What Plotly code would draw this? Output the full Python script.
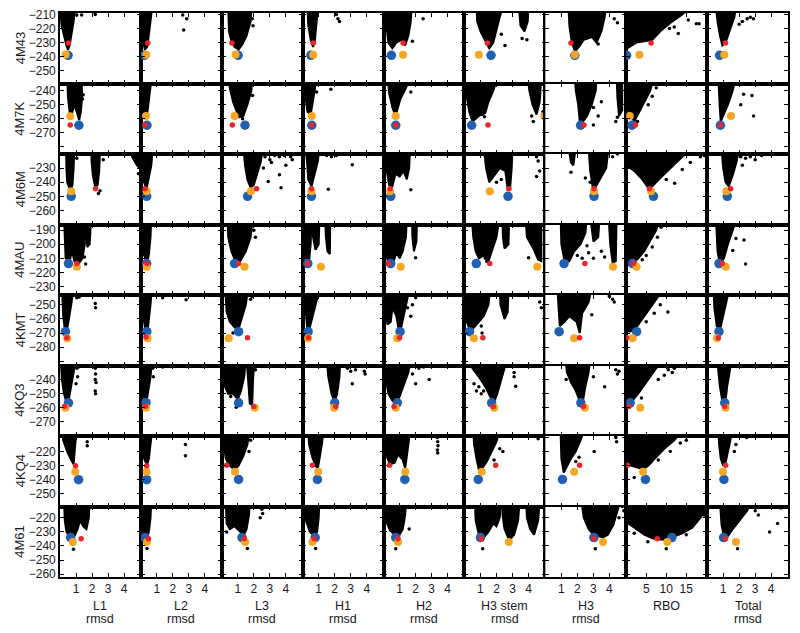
import plotly.graph_objects as go
from plotly.subplots import make_subplots

ROWS = ["4M43", "4M7K", "4M6M", "4MAU", "4KMT", "4KQ3", "4KQ4", "4M61"]
COLS = ["L1", "L2", "L3", "H1", "H2", "H3 stem", "H3", "RBO", "Total"]
COL_UNITS = ["rmsd", "rmsd", "rmsd", "rmsd", "rmsd", "rmsd", "rmsd", "", "rmsd"]

X_TICKS_RMSD = [1, 2, 3, 4]
X_TICKS_RBO = [5, 10, 15]

# y axis window and labelled ticks for each target
Y_RANGES = [[-259, -209], [-285, -235], [-270, -220], [-236, -186],
            [-293, -243], [-280, -230], [-259, -209], [-262, -212]]
Y_LABELS = [[-210, -220, -230, -240, -250],
            [-240, -250, -260, -270],
            [-230, -240, -250, -260],
            [-190, -200, -210, -220, -230],
            [-250, -260, -270, -280],
            [-240, -250, -260, -270],
            [-220, -230, -240, -250],
            [-220, -230, -240, -250, -260]]

# ---- 4M43 ----
CLOUD_4M43 = [
    [[(0.05, -205), (0.95, -205), (0.85, -215), (0.7, -225), (0.6, -232), (0.5, -235), (0.4, -232), (0.25, -225), (0.1, -218), (0.05, -212)]],
    [[(0.05, -205), (0.7, -205), (0.6, -215), (0.5, -225), (0.4, -233), (0.25, -235), (0.15, -230), (0.08, -220)]],
    [[(0.4, -205), (1.85, -205), (1.8, -215), (1.55, -225), (1.3, -231), (1.05, -235), (0.8, -233), (0.6, -229), (0.45, -222)]],
    [[(0.3, -205), (0.95, -205), (0.85, -218), (0.75, -230), (0.65, -233), (0.5, -228), (0.35, -218)]],
    [[(0.2, -205), (1.75, -205), (1.7, -215), (1.55, -225), (1.35, -232), (1.1, -228), (0.8, -230), (0.55, -234), (0.3, -230), (0.2, -220)]],
    [[(0.75, -205), (2.4, -205), (2.2, -212), (2.0, -222), (1.8, -230), (1.55, -234), (1.3, -229), (1.0, -222), (0.8, -215)],
     [(3.4, -205), (4.0, -205), (3.95, -215), (3.75, -222), (3.5, -218)]],
    [[(1.45, -205), (3.8, -205), (3.7, -212), (3.5, -222), (3.2, -230), (2.9, -226), (2.4, -228), (2.1, -233), (1.85, -236), (1.65, -230), (1.5, -218)]],
    [[(0, -205), (16, -205), (14, -210), (11, -216), (8.5, -222), (6.5, -228), (4.5, -229), (2.5, -230), (0.3, -234), (0, -234)]],
    [[(0.55, -205), (1.8, -205), (1.7, -212), (1.4, -222), (1.15, -230), (0.95, -232), (0.8, -225), (0.65, -215)]],
]
DOTS_4M43 = [
    [(1.05, -210.5), (1.35, -210.5), (2.2, -210)],
    [(2.61, -210.5), (2.86, -213), (2.67, -221)],
    [(1.9, -213), (1.95, -218)],
    [(2.1, -210), (2.2, -213), (2.3, -215)],
    [(2.47, -213), (1.8, -229)],
    [(2.53, -232), (3.6, -227), (3.9, -228), (2.3, -224)],
    [(4.3, -213), (4.5, -216), (3.3, -231)],
    [(13, -223.5), (17.5, -216.6), (18.2, -216.6), (10.8, -220), (12, -219), (15.5, -214)],
    [(2.0, -217), (2.2, -215), (2.5, -213), (2.9, -213), (2.7, -212)],
]
BLUE_4M43 = [(0.5, -239), (0.22, -239), (1.02, -239), (0.51, -239), (0.49, -239), (1.66, -239), (1.84, -239), (0.1, -239), (0.78, -239)]
ORANGE_4M43 = [(0.35, -238.5), (0.34, -238.6), (0.86, -238.5), (0.66, -238.6), (1.22, -238.6), (0.9, -238.6), (1.84, -238.6), (3.3, -238.6), (1.07, -238.6)]
RED_4M43 = [(0.53, -230.3), (0.43, -230.3), (0.63, -230.3), (0.66, -230.3), (1.22, -230.3), (1.43, -230.3), (1.6, -230.3), (6.2, -230.3), (1.14, -230.3)]

# ---- 4M7K ----
CLOUD_4M7K = [
    [[(0.45, -230), (1.35, -230), (1.38, -245), (1.3, -255), (1.2, -261), (1.05, -255), (0.9, -250), (0.75, -256), (0.62, -257), (0.5, -245)]],
    [[(0.08, -230), (0.68, -230), (0.55, -242), (0.45, -252), (0.38, -258), (0.2, -256), (0.12, -245)]],
    [[(0.45, -230), (1.9, -230), (1.85, -240), (1.6, -250), (1.35, -258), (1.1, -259), (0.9, -254), (0.7, -248), (0.5, -238)]],
    [[(0.12, -230), (0.85, -230), (0.75, -240), (0.6, -250), (0.5, -257), (0.3, -255), (0.18, -245)]],
    [[(0.25, -230), (1.7, -230), (1.4, -238), (1.05, -246), (0.85, -254), (0.75, -258), (0.55, -252), (0.35, -242)]],
    [[(0.1, -230), (2.1, -230), (1.8, -240), (1.5, -248), (1.3, -256), (0.9, -258), (0.5, -262), (0.3, -255), (0.15, -245)],
     [(3.95, -230), (4.8, -230), (4.7, -248), (4.5, -257), (4.25, -250), (4.05, -240)]],
    [[(1.85, -230), (3.2, -230), (3.15, -240), (2.9, -250), (2.6, -258), (2.35, -262), (2.15, -262), (2.05, -250), (1.9, -240)],
     [(4.45, -230), (4.8, -230), (4.8, -254), (4.6, -258), (4.5, -245)]],
    [[(0, -230), (7, -230), (6, -240), (4.5, -248), (3, -256), (2, -262), (0.8, -255), (0, -250)]],
    [[(0.7, -230), (1.8, -230), (1.6, -240), (1.3, -250), (1.0, -258), (0.85, -262), (0.78, -250), (0.75, -240)]],
]
DOTS_4M7K = [
    [(1.4, -246), (1.45, -243)],
    [],
    [(1.92, -243.5), (1.3, -260)],
    [(0.87, -241), (1.76, -239)],
    [(1.7, -241)],
    [(1.1, -257), (1.25, -258.5), (4.2, -258), (4.3, -262), (4.9, -255)],
    [(3.0, -264.5), (3.3, -258), (3.0, -252), (3.5, -248), (4.4, -262), (4.5, -259)],
    [(7.5, -238), (6.5, -244), (5.5, -250), (2.8, -262), (0.3, -253)],
    [(2.28, -242.6), (2.8, -243.5), (2.1, -250), (2.9, -258), (1.6, -257)],
]
BLUE_4M7K = [(1.18, -264.6), (0.38, -264.6), (1.45, -264.6), (0.57, -264.6), (0.76, -264.6), (0.45, -264.6), (2.2, -264.6), (1.45, -264.6), (0.83, -264.6)]
ORANGE_4M7K = [(0.64, -258.2), (0.32, -258), (0.8, -258), (0.57, -258), (0.76, -258), (4.98, -258), None, (0.9, -258), (1.49, -258)]
RED_4M7K = [(0.64, -264.4), (0.26, -264.4), (0.66, -264.4), (0.57, -264.4), (0.76, -264.4), (1.47, -264.4), (2.41, -264.4), (2.3, -264.4), (0.83, -264.4)]

# ---- 4M6M ----
CLOUD_4M6M = [
    [[(0.38, -215), (0.9, -215), (0.85, -230), (0.78, -242), (0.65, -246), (0.45, -240), (0.4, -230)],
     [(1.95, -215), (2.5, -215), (2.45, -232), (2.35, -242), (2.2, -244), (2.05, -235), (1.97, -225)],
     [(4.4, -215), (5.1, -215), (5.1, -232), (4.8, -228), (4.5, -222)]],
    [[(0.05, -215), (0.75, -215), (0.65, -228), (0.5, -238), (0.35, -245), (0.2, -240), (0.1, -228)]],
    [[(1.35, -215), (2.55, -215), (2.45, -225), (2.2, -235), (2.0, -242), (1.8, -244), (1.6, -238), (1.45, -228)]],
    [[(0.2, -215), (1.05, -215), (0.95, -225), (0.75, -235), (0.55, -243), (0.35, -238), (0.25, -228)]],
    [[(0.12, -215), (1.65, -215), (1.6, -230), (1.45, -238), (1.25, -232), (1.0, -236), (0.75, -234), (0.55, -243), (0.35, -242), (0.2, -232)]],
    [[(1.2, -215), (3.0, -215), (2.95, -230), (2.85, -244), (2.7, -245), (2.55, -232), (2.2, -230), (1.8, -236), (1.55, -240), (1.35, -230)]],
    [[(2.7, -215), (3.95, -215), (3.8, -230), (3.4, -238), (3.15, -243), (2.95, -243), (2.8, -232)],
     [(1.45, -215), (1.9, -215), (1.75, -228), (1.6, -226)]],
    [[(0, -215), (17, -215), (14, -222), (11, -230), (8.5, -237), (6.5, -243), (5.5, -244), (4, -238), (2, -232), (0, -228)]],
    [[(0.9, -215), (2.0, -215), (1.85, -225), (1.6, -235), (1.35, -243), (1.15, -240), (1.0, -230)]],
]
DOTS_4M6M = [
    [(1.05, -223), (2.4, -248), (2.5, -246), (2.7, -224), (4.9, -234)],
    [],
    [(2.7, -222), (3.0, -224), (3.3, -221), (3.6, -222), (3.9, -221), (4.3, -222), (4.4, -224), (3.1, -226),
     (2.9, -239.5), (3.7, -244), (3.6, -234.8), (4.0, -228), (2.6, -230)],
    [(1.5, -221), (1.8, -222), (2.1, -221), (3.1, -227.7), (1.6, -245)],
    [(1.7, -245.4)],
    [(1.55, -248), (1.7, -247), (4.5, -222), (4.6, -225), (4.7, -232), (4.5, -236), (2.3, -238), (2.0, -240)],
    [(1.6, -233), (2.5, -237), (4.2, -222), (4.5, -220), (2.8, -240)],
    [(12.1, -240.7), (18.5, -222), (19.5, -221), (16, -226), (14, -231), (10, -238)],
    [(2.1, -222), (2.4, -223), (2.7, -222), (3.0, -224), (3.4, -221), (2.2, -228)],
]
BLUE_4M6M = [(0.7, -250), (0.36, -250), (1.61, -250), (0.55, -250), (0.45, -250), (2.72, -250), (3.04, -250), (6.8, -250), (1.26, -250)]
ORANGE_4M6M = [(0.7, -246.5), (0.36, -246.5), (1.82, -246.5), (0.55, -246.5), (0.41, -246.5), (1.58, -246.5), (3.04, -246.5), (6.2, -246.5), (1.2, -246.5)]
RED_4M6M = [(2.22, -244.6), (0.26, -244.6), (2.17, -244.6), (0.55, -244.6), (0.41, -244.6), (2.78, -244.6), (3.04, -244.6), (5.8, -244.6), (1.47, -244.6)]

# ---- 4MAU ----
CLOUD_4MAU = [
    [[(0.25, -180), (1.6, -180), (1.55, -200), (1.4, -210), (1.15, -214), (0.9, -212), (0.75, -205), (0.6, -212), (0.35, -210), (0.28, -198)],
     [(1.65, -180), (1.95, -180), (1.85, -200), (1.7, -202)]],
    [[(0.08, -180), (0.65, -180), (0.6, -195), (0.5, -207), (0.4, -213), (0.2, -208), (0.12, -195)]],
    [[(0.35, -180), (1.95, -180), (1.8, -195), (1.5, -205), (1.15, -212), (0.85, -212), (0.6, -205), (0.4, -195)]],
    [[(0.12, -180), (0.55, -180), (0.5, -200), (0.4, -212), (0.2, -210), (0.14, -195)],
     [(0.6, -180), (1.05, -180), (1.0, -200), (0.8, -204), (0.65, -195)],
     [(1.4, -180), (1.72, -180), (1.7, -207), (1.55, -205), (1.45, -195)]],
    [[(0.05, -180), (1.45, -180), (1.4, -195), (1.2, -205), (1.0, -210), (0.8, -206), (0.6, -213), (0.35, -215), (0.1, -205)],
     [(1.78, -180), (2.1, -180), (2.05, -198), (1.9, -205), (1.8, -195)]],
    [[(0.45, -180), (2.2, -180), (2.0, -195), (1.7, -205), (1.5, -212), (1.2, -208), (0.9, -210), (0.7, -205), (0.55, -195)],
     [(2.38, -180), (2.8, -180), (2.75, -200), (2.5, -203), (2.4, -195)],
     [(3.8, -180), (4.8, -180), (4.8, -212), (4.6, -211), (4.3, -203), (3.9, -195)]],
    [[(0.95, -180), (2.6, -180), (2.5, -192), (2.2, -200), (1.8, -205), (1.5, -212), (1.2, -212), (1.0, -200)],
     [(2.8, -180), (3.4, -180), (3.3, -195), (3.0, -198)],
     [(3.95, -180), (4.45, -180), (4.4, -212), (4.2, -213), (4.05, -200)]],
    [[(0, -180), (8.5, -180), (7.5, -190), (6, -198), (4.5, -205), (3, -210), (1.5, -214), (0, -215)]],
    [[(0.55, -180), (1.85, -180), (1.6, -190), (1.3, -200), (1.05, -210), (0.8, -214), (0.65, -205), (0.58, -195)]],
]
DOTS_4MAU = [
    [(1.6, -214), (1.53, -209)],
    [],
    [(2.0, -190), (2.1, -195)],
    [],
    [(2.0, -209.5)],
    [(1.3, -210), (1.4, -212), (4.0, -209.5)],
    [(2.0, -208), (2.3, -210), (2.7, -206), (3.0, -210), (3.5, -205), (3.7, -209), (2.6, -201)],
    [(8.7, -188), (7.8, -195), (6.5, -202), (5, -208), (4, -211)],
    [(1.8, -196), (2.3, -197), (1.6, -204.5), (2.4, -214)],
]
BLUE_4MAU = [(0.53, -213.7), (0.36, -213.7), (0.8, -213.7), (0.32, -213.7), (0.45, -213.7), (0.74, -213.7), (1.17, -213.7), (1.6, -213.7), (0.74, -213.7)]
ORANGE_4MAU = [(1.05, -216), (0.36, -216), (1.42, -216), (1.14, -216), (1.07, -216), (4.55, -216), (4.22, -216), (2.6, -216), (1.16, -216)]
RED_4MAU = [(1.05, -213.7), (0.38, -213.7), (1.05, -213.7), (0.3, -213.7), (0.3, -213.7), (1.58, -213.7), (2.47, -213.7), (1.8, -213.7), (0.95, -213.7)]

# ---- 4KMT ----
CLOUD_4KMT = [
    [[(0.15, -238), (0.85, -238), (0.7, -250), (0.55, -260), (0.45, -267), (0.3, -267), (0.2, -258), (0.16, -248)]],
    [[(0.08, -238), (0.68, -238), (0.6, -250), (0.5, -260), (0.42, -268), (0.25, -266), (0.12, -255)]],
    [[(0.22, -238), (1.65, -238), (1.5, -250), (1.25, -260), (1.05, -267), (0.8, -266), (0.5, -262), (0.3, -255), (0.23, -245)]],
    [[(0.18, -238), (1.1, -238), (0.85, -248), (0.6, -258), (0.42, -267), (0.28, -266), (0.2, -255)]],
    [[(0.08, -238), (1.6, -238), (1.5, -245), (1.3, -255), (1.1, -266), (0.95, -268), (0.8, -258), (0.55, -252), (0.45, -262), (0.25, -264), (0.1, -255)]],
    [[(0.05, -238), (1.6, -238), (1.5, -250), (1.2, -258), (0.9, -262), (0.6, -266), (0.35, -268), (0.15, -262), (0.07, -250)],
     [(2.2, -238), (2.75, -238), (2.7, -255), (2.5, -260), (2.25, -250)]],
    [[(0.75, -238), (2.9, -238), (2.7, -248), (2.3, -256), (2.15, -270), (1.95, -262), (1.5, -258), (1.2, -262), (0.9, -265), (0.77, -250)]],
    [[(0, -238), (9.5, -238), (8, -244), (6, -252), (4, -260), (2.5, -266), (1, -269), (0, -268)]],
    [[(0.4, -238), (1.4, -238), (1.2, -248), (1.0, -258), (0.8, -268), (0.6, -265), (0.45, -252)]],
]
DOTS_4KMT = [
    [(1.05, -245), (1.2, -244.5), (2.2, -249), (2.22, -252)],
    [(1.36, -245), (2.82, -246.3)],
    [(0.7, -270), (1.8, -246), (1.9, -244)],
    [],
    [(1.7, -258), (1.8, -250), (1.5, -252), (2.0, -245)],
    [(4.7, -248), (4.8, -252), (1.1, -270), (1.05, -265)],
    [(2.9, -257), (3.9, -242), (4.2, -246), (4.3, -248), (4.0, -244)],
    [(10.4, -255), (8.5, -250), (7, -256), (5, -262)],
    [],
]
BLUE_4KMT = [(0.34, -269), (0.37, -269), (1.05, -269), (0.34, -269), (1.03, -269), (0.32, -269), (0.86, -269), (2.6, -269), (0.74, -269)]
ORANGE_4KMT = [(0.45, -273.6), (0.42, -273.6), (0.43, -273.7), (0.34, -273.7), (0.86, -273.7), (0.59, -273.7), (1.8, -273.7), (1.6, -273.7), (0.62, -273.7)]
RED_4KMT = [(0.43, -273.3), (0.32, -272.8), (1.61, -273.3), (0.36, -273.3), (1.0, -273.3), (1.15, -273.3), (2.14, -273.3), (0.1, -273.3), (0.7, -273.3)]

# ---- 4KQ3 ----
CLOUD_4KQ3 = [
    [[(0.05, -225), (0.95, -225), (0.85, -235), (0.7, -245), (0.55, -254), (0.4, -256), (0.25, -250), (0.12, -240)]],
    [[(0.05, -225), (0.7, -225), (0.6, -238), (0.45, -250), (0.35, -256), (0.2, -253), (0.1, -240)]],
    [[(0.12, -225), (1.5, -225), (1.4, -238), (1.2, -248), (1.0, -254), (0.7, -250), (0.4, -250), (0.2, -245), (0.12, -235)],
     [(1.55, -225), (2.05, -225), (1.95, -240), (1.9, -258), (1.75, -257), (1.65, -240)]],
    [[(1.5, -225), (2.35, -225), (2.3, -238), (2.15, -250), (2.0, -256), (1.8, -250), (1.6, -238)]],
    [[(0.12, -225), (1.7, -225), (1.55, -235), (1.3, -243), (1.0, -252), (0.8, -256), (0.55, -255), (0.3, -250), (0.15, -240)]],
    [[(0.45, -225), (2.6, -225), (2.5, -232), (2.3, -240), (2.05, -250), (1.85, -256), (1.6, -252), (1.3, -245), (0.9, -238), (0.5, -232)]],
    [[(1.25, -225), (2.8, -225), (2.7, -235), (2.5, -245), (2.35, -255), (2.15, -255), (1.9, -248), (1.6, -242), (1.35, -235)]],
    [[(0, -225), (9, -225), (7.5, -232), (6, -238), (4.5, -244), (3, -250), (1.5, -255), (0, -256)]],
    [[(0.62, -225), (1.55, -225), (1.4, -235), (1.25, -245), (1.15, -255), (0.95, -255), (0.8, -245), (0.68, -235)]],
]
DOTS_4KQ3 = [
    [(1.05, -232), (1.15, -231), (1.1, -238), (1.0, -243), (2.2, -230), (2.2, -232), (2.22, -236), (2.2, -240),
     (2.25, -242), (2.2, -248), (2.22, -250)],
    [(0.74, -232), (1.36, -231), (0.78, -238)],
    [(0.9, -259.6), (0.56, -252), (1.5, -230), (1.7, -231), (2.1, -233)],
    [(2.8, -232), (3.0, -234), (3.3, -233), (3.85, -234), (3.9, -236), (3.1, -243)],
    [(2.0, -243), (2.85, -240), (2.2, -232), (2.5, -231), (1.8, -236)],
    [(0.6, -243), (0.75, -248), (0.9, -245), (1.05, -250), (3.1, -235), (3.1, -238), (3.2, -244.7), (1.2, -248)],
    [(1.3, -240), (3.7, -245), (4.4, -233), (4.5, -236), (4.6, -234), (3.0, -238)],
    [(10.5, -233), (11.5, -235), (12, -232), (9.5, -237), (8, -240), (3.8, -253)],
    [],
]
BLUE_4KQ3 = [(0.53, -256.5), (0.32, -256.4), (1.05, -256.5), (2.0, -256.5), (0.86, -256.5), (1.7, -256.5), (2.22, -256.5), (1.0, -256.5), (1.1, -256.5)]
ORANGE_4KQ3 = [(0.34, -260), (0.32, -260), (2.06, -259.9), (1.97, -260), (0.76, -260), (1.86, -260), (2.47, -260), (3.5, -260), (1.16, -260)]
RED_4KQ3 = [(0.3, -258.9), (0.28, -258.9), (2.0, -259), (2.06, -259), (0.66, -259), (1.8, -259), (2.38, -259), (0.7, -259), (1.1, -259)]

# ---- 4KQ4 ----
CLOUD_4KQ4 = [
    [[(0.15, -205), (1.05, -205), (0.95, -215), (0.9, -225), (0.85, -229), (0.7, -226), (0.45, -220), (0.2, -212)]],
    [[(0.05, -205), (0.7, -205), (0.6, -215), (0.5, -225), (0.38, -230), (0.2, -225), (0.08, -215)]],
    [[(0.12, -205), (1.75, -205), (1.6, -215), (1.35, -223), (1.05, -230), (0.8, -233), (0.5, -230), (0.25, -225), (0.13, -215)]],
    [[(0.35, -205), (1.3, -205), (1.2, -215), (1.05, -225), (0.95, -232), (0.8, -230), (0.6, -224), (0.4, -215)]],
    [[(0.12, -205), (1.65, -205), (1.55, -215), (1.45, -225), (1.35, -232), (1.2, -226), (0.9, -222), (0.7, -228), (0.4, -229), (0.15, -222)]],
    [[(0.55, -205), (2.2, -205), (2.0, -213), (1.7, -220), (1.4, -227), (1.1, -232), (0.9, -233), (0.75, -225), (0.6, -215)]],
    [[(0.95, -205), (2.4, -205), (2.2, -212), (1.9, -220), (1.6, -225), (1.35, -230), (1.15, -235), (1.0, -225), (0.97, -215)]],
    [[(0, -205), (14, -205), (12, -212), (9.5, -218), (7.5, -224), (5.5, -230), (4.2, -232.5), (2.5, -231), (0, -229)]],
    [[(0.7, -205), (1.55, -205), (1.45, -212), (1.3, -220), (1.15, -228), (1.0, -230), (0.85, -225), (0.75, -215)]],
]
DOTS_4KQ4 = [
    [(1.7, -213), (1.7, -216)],
    [(2.78, -215), (2.78, -223)],
    [(1.7, -220), (1.8, -212)],
    [],
    [(3.36, -210), (3.38, -213), (3.4, -216), (3.36, -219), (3.38, -221)],
    [(2.4, -220), (2.2, -218), (4.6, -211), (1.85, -226)],
    [(3.05, -220), (4.4, -210), (4.45, -213), (2.1, -224), (1.9, -227)],
    [(2.0, -238.5), (13.5, -214), (15, -212), (11, -220), (8, -226)],
    [(2.47, -210), (1.8, -215), (1.7, -220)],
]
BLUE_4KQ4 = [(1.16, -240), (0.36, -240), (1.05, -239.8), (0.92, -239.8), (1.33, -239.8), (0.86, -239.8), (1.07, -239.8), (4.8, -239.8), (1.05, -239.8)]
ORANGE_4KQ4 = [(0.95, -234.4), (0.36, -234.4), (0.83, -234.4), (0.97, -234.4), (1.36, -234.4), (1.08, -234.4), (1.8, -234.4), (4.2, -234.4), (0.99, -234.4)]
RED_4KQ4 = [(0.97, -230.1), (0.36, -230.1), (0.3, -229.7), (0.61, -229.7), (0.37, -229.7), (1.95, -229.7), (2.14, -229.7), (0.3, -229.7), (1.16, -229.7)]

# ---- 4M61 ----
CLOUD_4M61 = [
    [[(0.25, -208), (1.85, -208), (1.8, -220), (1.65, -228), (1.45, -226), (1.25, -222), (1.1, -228), (0.9, -233), (0.65, -234), (0.4, -230), (0.3, -222)]],
    [[(0.05, -208), (0.65, -208), (0.6, -220), (0.5, -230), (0.38, -234), (0.2, -232), (0.08, -222)]],
    [[(0.25, -208), (1.75, -208), (1.7, -218), (1.55, -228), (1.35, -233), (1.15, -230), (0.8, -226), (0.5, -228), (0.3, -224), (0.25, -215)]],
    [[(0.12, -208), (1.05, -208), (1.0, -220), (0.9, -230), (0.75, -233), (0.45, -230), (0.2, -222)]],
    [[(0.1, -208), (1.4, -208), (1.35, -218), (1.2, -228), (0.95, -233), (0.7, -232), (0.4, -229), (0.15, -222)]],
    [[(0.65, -208), (2.3, -208), (2.2, -220), (2.0, -226), (1.8, -224), (1.5, -230), (1.2, -234), (0.9, -232), (0.7, -222)],
     [(2.35, -208), (3.45, -208), (3.35, -222), (3.1, -232), (2.8, -236), (2.5, -228), (2.38, -218)],
     [(3.85, -208), (4.7, -208), (4.6, -222), (4.35, -232), (4.1, -228), (3.9, -220)]],
    [[(2.25, -208), (4.7, -208), (4.5, -215), (4.25, -225), (3.9, -232), (3.6, -234), (3.3, -233), (3.0, -232), (2.7, -228), (2.4, -220)]],
    [[(0, -208), (20.5, -208), (20.5, -213), (18.5, -220), (16.5, -227), (14, -231), (11.7, -233.5), (9, -235.5), (6.5, -234.5),
      (4.5, -232), (2.5, -228), (0.5, -224), (0, -220)]],
    [[(0.8, -208), (2.8, -208), (2.5, -215), (2.0, -222), (1.6, -228), (1.3, -233), (1.05, -233), (0.9, -225), (0.83, -215)]],
]
DOTS_4M61 = [
    [(0.84, -242.3)],
    [(0.38, -241.7)],
    [(2.0, -212), (2.3, -211), (2.5, -214), (2.55, -217), (2.4, -220), (1.6, -241.7), (0.3, -230)],
    [(0.81, -241.7)],
    [(1.6, -228), (0.76, -242)],
    [(1.14, -241.9)],
    [(3.12, -242), (4.8, -212), (4.9, -215), (4.6, -220)],
    [(5.4, -237), (10, -241.9), (2.0, -231), (19.5, -218), (15, -232)],
    [(1.9, -242), (3.9, -230), (4.4, -224), (3.5, -212), (4.0, -211), (4.6, -213), (3.0, -215), (3.2, -218)],
]
BLUE_4M61 = [(0.66, -234), (0.26, -234), (1.26, -234), (0.78, -234), (0.76, -234), (1.0, -234), (3.03, -234), (11.4, -234), (1.03, -234)]
ORANGE_4M61 = [(0.8, -237.1), (0.38, -237.1), (1.46, -237.1), (0.61, -237.1), (0.9, -237.1), (2.77, -237.1), (3.6, -237.1), (10.25, -237.1), (1.8, -237.1)]
RED_4M61 = [(1.32, -234.8), (0.47, -234.8), (1.4, -234.8), (0.72, -234.8), (0.9, -234.8), (1.04, -234.8), (3.03, -234.8), (7.75, -234.8), (1.14, -234.8)]

PANELS = {
    "4M43": (CLOUD_4M43, DOTS_4M43, BLUE_4M43, ORANGE_4M43, RED_4M43),
    "4M7K": (CLOUD_4M7K, DOTS_4M7K, BLUE_4M7K, ORANGE_4M7K, RED_4M7K),
    "4M6M": (CLOUD_4M6M, DOTS_4M6M, BLUE_4M6M, ORANGE_4M6M, RED_4M6M),
    "4MAU": (CLOUD_4MAU, DOTS_4MAU, BLUE_4MAU, ORANGE_4MAU, RED_4MAU),
    "4KMT": (CLOUD_4KMT, DOTS_4KMT, BLUE_4KMT, ORANGE_4KMT, RED_4KMT),
    "4KQ3": (CLOUD_4KQ3, DOTS_4KQ3, BLUE_4KQ3, ORANGE_4KQ3, RED_4KQ3),
    "4KQ4": (CLOUD_4KQ4, DOTS_4KQ4, BLUE_4KQ4, ORANGE_4KQ4, RED_4KQ4),
    "4M61": (CLOUD_4M61, DOTS_4M61, BLUE_4M61, ORANGE_4M61, RED_4M61),
}

BLUE = "#2160b0"
ORANGE = "#f5a623"
RED = "#e8262e"
FONT = "Liberation Sans, Arial, sans-serif"
TEXT = "#1a1a1a"

# the page body adds an 8px offset; panels span x 60..788, y 13..577 in the window
OFF = 8
W, H = 792, 625
L, T = 60 - OFF, 13 - OFF
R, B = W - (788 - OFF), H - (577 - OFF)
PW, PH = W - L - R, H - T - B

fig = make_subplots(rows=len(ROWS), cols=len(COLS), horizontal_spacing=0, vertical_spacing=0)


def point_trace(pt, color, size):
    if pt is None:
        return None
    return go.Scatter(x=[pt[0]], y=[pt[1]], mode="markers",
                      marker=dict(color=color, size=size, line=dict(width=0)),
                      hoverinfo="skip", showlegend=False)


for r, name in enumerate(ROWS):
    clouds, dots, blues, oranges, reds = PANELS[name]
    for c in range(len(COLS)):
        xs, ys = [], []
        for poly in clouds[c]:
            xs += [p[0] for p in poly] + [poly[0][0], None]
            ys += [p[1] for p in poly] + [poly[0][1], None]
        fig.add_trace(go.Scatter(x=xs, y=ys, mode="lines", fill="toself", fillcolor="black",
                                 line=dict(color="black", width=2), hoverinfo="skip",
                                 showlegend=False), row=r + 1, col=c + 1)
        if dots[c]:
            fig.add_trace(go.Scatter(x=[p[0] for p in dots[c]], y=[p[1] for p in dots[c]],
                                     mode="markers", marker=dict(color="black", size=3.5),
                                     hoverinfo="skip", showlegend=False), row=r + 1, col=c + 1)
        for pt, color, size in ((blues[c], BLUE, 9.5), (oranges[c], ORANGE, 8), (reds[c], RED, 5.5)):
            tr = point_trace(pt, color, size)
            if tr is not None:
                fig.add_trace(tr, row=r + 1, col=c + 1)

        is_rbo = COLS[c] == "RBO"
        fig.update_xaxes(range=[0, 20.2] if is_rbo else [0, 5.05],
                         tickvals=X_TICKS_RBO if is_rbo else X_TICKS_RMSD,
                         showticklabels=(r == len(ROWS) - 1),
                         row=r + 1, col=c + 1)
        lo, hi = Y_RANGES[r]
        allticks = list(range(int(hi // 10 * 10), int(lo) - 1, -10))
        allticks = [v for v in allticks if lo < v < hi]
        fig.update_yaxes(range=Y_RANGES[r], tickvals=allticks,
                         ticktext=[("\u2212%d" % abs(v)) if v in Y_LABELS[r] else "" for v in allticks],
                         showticklabels=(c == 0), row=r + 1, col=c + 1)

axis_style = dict(showline=True, linecolor="black", linewidth=1.6, mirror="ticks",
                  ticks="inside", ticklen=4, tickwidth=1, tickcolor="black",
                  showgrid=False, zeroline=False, automargin=False, ticklabeloverflow="allow",
                  tickfont=dict(family=FONT, size=12, color=TEXT))
fig.update_xaxes(**axis_style)
fig.update_yaxes(**axis_style)


def px_to_paper(px, py):
    # window pixels -> paper coordinates
    return (px - OFF - L) / PW, 1 - (py - OFF - T) / PH


for r, name in enumerate(ROWS):
    x, y = px_to_paper(20, 13 + 564 / len(ROWS) * (r + 0.5))
    fig.add_annotation(x=x, y=y, xref="paper", yref="paper", text=name, textangle=-90,
                       xanchor="center", yanchor="middle",
                       showarrow=False, font=dict(family=FONT, size=13, color=TEXT))

for c, name in enumerate(COLS):
    cx = 60 + 728 / len(COLS) * (c + 0.5)
    x, y = px_to_paper(cx, 605.5)
    fig.add_annotation(x=x, y=y, xref="paper", yref="paper", text=name,
                       xanchor="center", yanchor="middle",
                       showarrow=False, font=dict(family=FONT, size=12.5, color=TEXT))
    if COL_UNITS[c]:
        x, y = px_to_paper(cx, 619)
        fig.add_annotation(x=x, y=y, xref="paper", yref="paper", text=COL_UNITS[c],
                           xanchor="center", yanchor="middle",
                           showarrow=False, font=dict(family=FONT, size=12.5, color=TEXT))

fig.update_layout(width=W, height=H, margin=dict(l=L, r=R, t=T, b=B, autoexpand=False),
                  paper_bgcolor="white", plot_bgcolor="white",
                  font=dict(family=FONT, size=12, color=TEXT))

fig.write_html("out.html")
